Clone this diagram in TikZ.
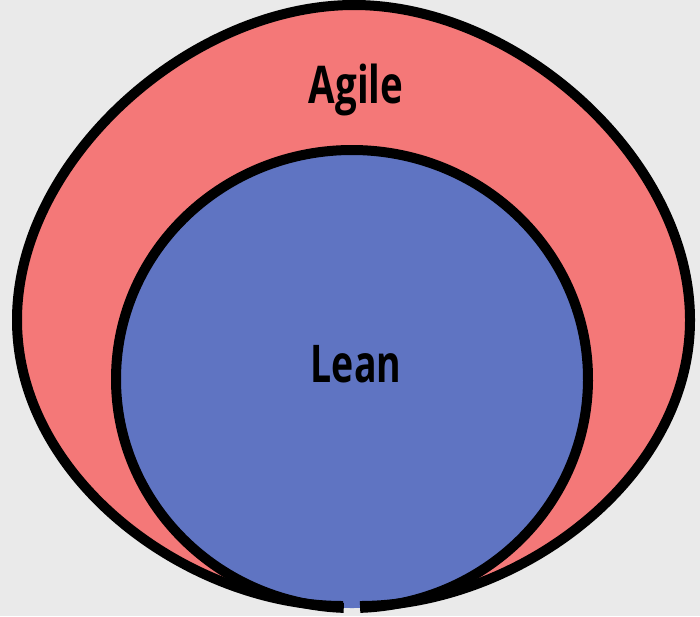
\documentclass[tikz,border=0pt]{standalone}
\usepackage{fontspec}
\setmainfont{Open Sans}
\definecolor{agilered}{HTML}{F47878}
\definecolor{leanblue}{HTML}{5F74C2}
\definecolor{backgray}{HTML}{EAEAEA}

\begin{document}
\begin{tikzpicture}[x=1pt,y=-1pt,
		word/.style={anchor=base,inner sep=0pt,font=\fontsize{52}{60}\selectfont\bfseries},
		rim/.style={line width=10pt,black}]
		\fill[backgray] (0,0) rectangle (700,616);
		\useasboundingbox (0,0) rectangle (700,616);
		\fill[agilered] (352,606) .. controls (190,606) and (17,480) .. (17,320)
			.. controls (17,160) and (190,5) .. (354,5)
			.. controls (518,5) and (690,160) .. (690,320)
			.. controls (690,480) and (516,606) .. (352,606) -- cycle;
		\fill[leanblue] (352,379) ellipse[x radius=236,y radius=229];
		\draw[rim] (343,606) .. controls (190,606) and (17,480) .. (17,320)
			.. controls (17,160) and (190,5) .. (354,5)
			.. controls (518,5) and (690,160) .. (690,320)
			.. controls (690,480) and (516,606) .. (360,606);
		\draw[rim] (352,379) ++(92:236 and 229) arc[start angle=92,end angle=448,x radius=236,y radius=229];
		\node[word] (agile) at (356,103) {\scalebox{0.74}[1]{Agile}};
		\node[word] (lean) at (356,382) {\scalebox{0.72}[1]{Lean}};
		\end{tikzpicture}
\end{document}
